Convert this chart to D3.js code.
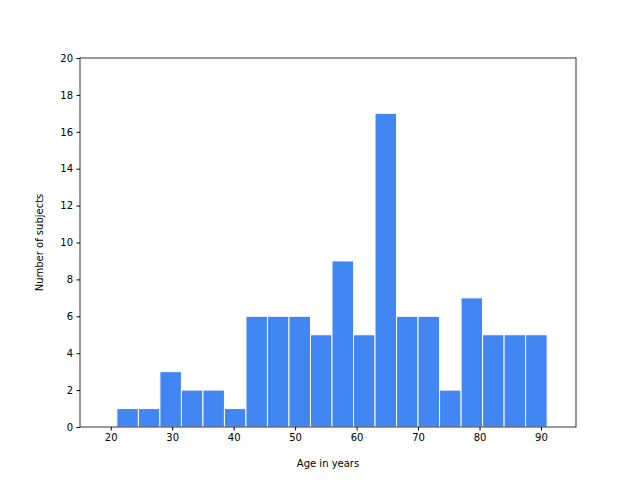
<!DOCTYPE html>
<html><head><meta charset="utf-8">
<script src="https://cdn.jsdelivr.net/npm/d3@7"></script>
<style>body{margin:0;background:#fff}text{font-family:"DejaVu Sans",sans-serif}</style>
</head><body><div id="chart"></div>
<script>
// histogram bins: start edges (years) and counts
const binStart = 21;
const binWidth = 3.5;
const counts = [1, 1, 3, 2, 2, 1, 6, 6, 6, 5, 9, 5, 17, 6, 6, 2, 7, 5, 5, 5];
const xTicks = [20, 30, 40, 50, 60, 70, 80, 90];
const yTicks = [0, 2, 4, 6, 8, 10, 12, 14, 16, 18, 20];

const width = 640, height = 480;
const margin = {left: 80, right: 64, top: 58, bottom: 53};

const svg = d3.select('#chart').append('svg')
  .attr('width', width).attr('height', height);

const x = d3.scaleLinear().domain([15, 95.7]).range([margin.left, width - margin.right]);
const y = d3.scaleLinear().domain([0, 20]).range([height - margin.bottom, margin.top]);

const bins = counts.map((c, i) => ({x0: binStart + i * binWidth, x1: binStart + (i + 1) * binWidth, n: c}));

svg.append('g').selectAll('rect').data(bins).join('rect')
  .attr('x', d => x(d.x0))
  .attr('y', d => y(d.n))
  .attr('width', d => x(d.x1) - x(d.x0))
  .attr('height', d => y(0) - y(d.n))
  .attr('fill', '#4286f4')
  .attr('stroke', '#fff')
  .attr('stroke-width', 1);

const xAxis = svg.append('g')
  .attr('transform', `translate(0,${height - margin.bottom})`)
  .call(d3.axisBottom(x).tickValues(xTicks).tickSize(3.5).tickPadding(3.5));
const yAxis = svg.append('g')
  .attr('transform', `translate(${margin.left},0)`)
  .call(d3.axisLeft(y).tickValues(yTicks).tickSize(3.5).tickPadding(3.5));
[xAxis, yAxis].forEach(a => {
  a.select('.domain').remove();
  a.selectAll('text').attr('font-size', 10).attr('fill', '#000');
  a.selectAll('line').attr('stroke', '#000');
});

// frame
svg.append('rect')
  .attr('x', margin.left).attr('y', margin.top)
  .attr('width', width - margin.left - margin.right)
  .attr('height', height - margin.top - margin.bottom)
  .attr('fill', 'none').attr('stroke', '#000').attr('stroke-width', 0.8);

svg.append('text')
  .attr('x', (margin.left + width - margin.right) / 2).attr('y', 467)
  .attr('text-anchor', 'middle').attr('font-size', 10)
  .text('Age in years');

svg.append('text')
  .attr('transform', `translate(43,${(margin.top + height - margin.bottom) / 2}) rotate(-90)`)
  .attr('text-anchor', 'middle').attr('font-size', 10)
  .text('Number of subjects');
</script></body></html>
